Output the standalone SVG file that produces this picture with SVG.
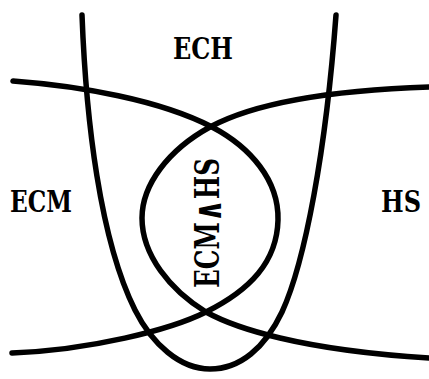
<svg xmlns="http://www.w3.org/2000/svg" width="429" height="379" viewBox="0 0 429 379">
<style>
.c{fill:none;stroke:#000;stroke-width:5.5;stroke-linecap:round;stroke-linejoin:round}
.t{font-family:"DejaVu Serif","Liberation Serif",serif;font-weight:bold;fill:#000}
.op{font-family:"DejaVu Sans","Liberation Sans",sans-serif;font-weight:bold}
</style>
<rect width="429" height="379" fill="#fff"/>
<g id="connectors">
<path id="ech-boundary" class="c" d="M82,15 C86,120 100,240 135,310 C152,344 180,369 210,369 C240,369 265,348 282,312 C305,262 326,150 336,15"/>
<path id="ecm-boundary" class="c" d="M13,81 C80,86 160,100 212,127 C250,147 279,180 278,220 C277,262 250,290 206,312 C170,330 90,350 12,353"/>
<path id="hs-boundary" class="c" d="M429,87 C340,90 260,100 210,127 C168,150 142,185 142,218 C142,255 170,290 206,312 C235,328 300,350 429,358"/>
</g>
<g id="ECH"><text class="t" x="203" y="59" font-size="29" text-anchor="middle" textLength="60" lengthAdjust="spacingAndGlyphs">ECH</text></g>
<g id="ECM"><text class="t" x="10" y="212" font-size="29" textLength="62" lengthAdjust="spacingAndGlyphs">ECM</text></g>
<g id="HS"><text class="t" x="381" y="212" font-size="29" textLength="40" lengthAdjust="spacingAndGlyphs">HS</text></g>
<g id="ECM-and-HS"><text class="t" transform="translate(219,288) rotate(-90)" x="0" y="0" font-size="33" textLength="130" lengthAdjust="spacingAndGlyphs">ECM<tspan class="op" font-size="38" dy="2">∧</tspan><tspan dy="-2">HS</tspan></text></g>
</svg>
